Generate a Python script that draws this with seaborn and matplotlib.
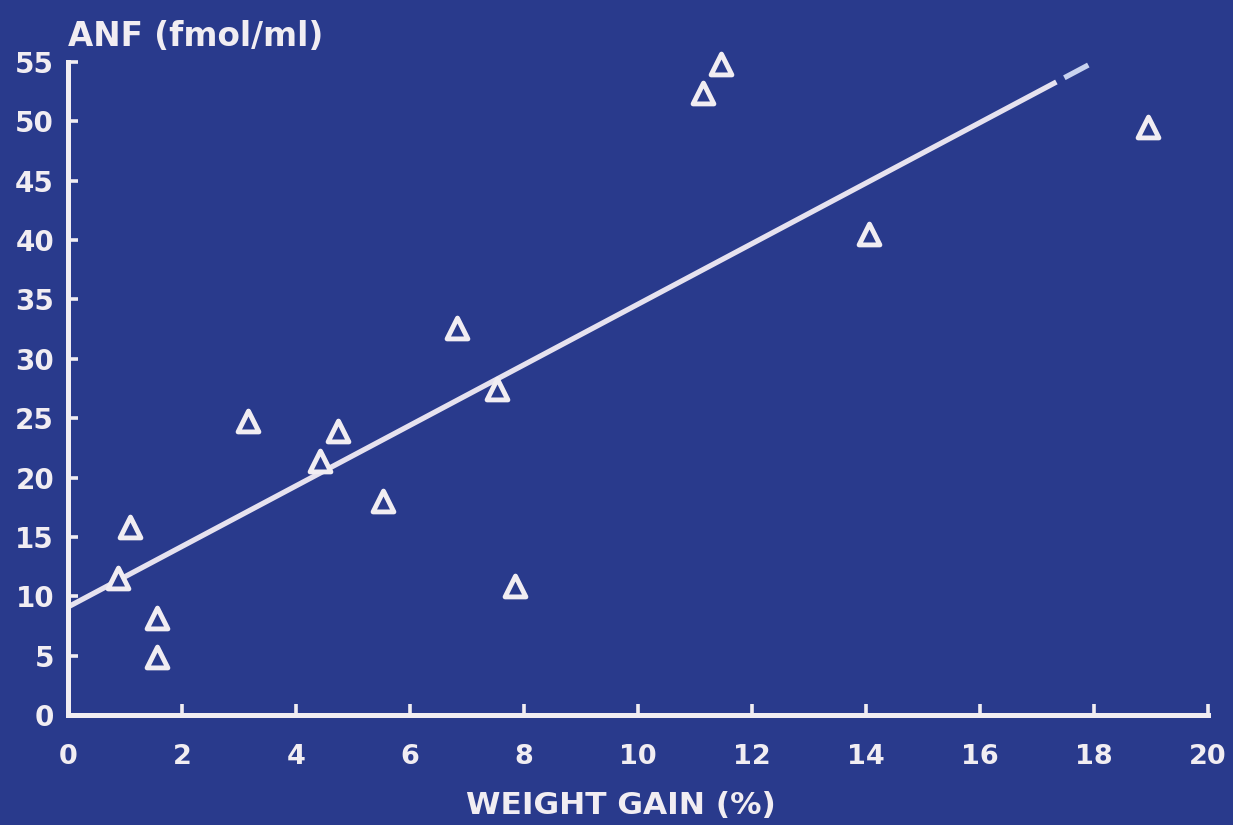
"""Recreate the ANF vs weight gain slide."""

import matplotlib

matplotlib.use("Agg")
import matplotlib.pyplot as plt
import pandas as pd
import seaborn as sns

# values
weight_gain = [0.88, 1.09, 1.56, 1.56, 3.16, 4.42, 4.74, 5.53, 6.82, 7.53, 7.84,
               11.14, 11.46, 14.05, 18.95]
anf = [11.5, 15.8, 8.2, 4.9, 24.8, 21.4, 23.9, 18.0, 32.6, 27.5, 10.9,
       52.4, 54.8, 40.5, 49.5]
x_ticks = [0, 2, 4, 6, 8, 10, 12, 14, 16, 18, 20]
y_ticks = [0, 5, 10, 15, 20, 25, 30, 35, 40, 45, 50, 55]

# regression line as drawn (solid part, then a short piece after a gap)
fit_intercept = 9.1
fit_slope = 2.55
fit_solid = [0.0, 17.34]
fit_tail = [17.48, 17.9]

BG = "#293a8c"
FG = "#f1edf2"

sns.set_theme(style="ticks")
plt.rcParams["font.family"] = ["DejaVu Sans"]
plt.rcParams["font.weight"] = "bold"

df = pd.DataFrame({"weight_gain": weight_gain, "anf": anf})

fig = plt.figure(figsize=(12.33, 8.25), dpi=100)
fig.patch.set_facecolor(BG)
ax = fig.add_axes([68 / 1233, 110 / 825, 1140 / 1233, 653 / 825])
ax.set_facecolor(BG)

ax.plot(fit_solid, [fit_intercept + fit_slope * v for v in fit_solid],
        color="#e6e2ef", lw=3.8, solid_capstyle="butt", zorder=2)
ax.plot(fit_tail, [fit_intercept + fit_slope * v for v in fit_tail],
        color="#c9d3f0", lw=3.8, solid_capstyle="butt", zorder=2)

sns.scatterplot(data=df, x="weight_gain", y="anf", ax=ax, marker="^",
                s=15 ** 2, facecolor=BG, edgecolor=FG, linewidth=3.5,
                clip_on=False, zorder=3, legend=False)

ax.set_xlim(0, 20)
ax.set_ylim(0, 55)
ax.set_xticks(x_ticks)
ax.set_yticks(y_ticks)
ax.set_xlabel("")
ax.set_ylabel("")

for side in ("top", "right"):
    ax.spines[side].set_visible(False)
for side in ("left", "bottom"):
    ax.spines[side].set_color(FG)
    ax.spines[side].set_linewidth(3.6)
    ax.spines[side].set_capstyle("projecting")

ax.tick_params(axis="x", direction="in", length=8, width=2.6, color=FG,
               labelcolor=FG, labelsize=19.5, pad=21)
ax.tick_params(axis="y", direction="in", length=7, width=2.6, color=FG,
               labelcolor=FG, labelsize=20, pad=10)
for lab in ax.get_xticklabels() + ax.get_yticklabels():
    lab.set_fontweight("bold")

fig.text(68 / 1233, 1 - 37 / 825, "ANF (fmol/ml)", color=FG, fontsize=23.5,
         fontweight="bold", ha="left", va="center")
fig.text(621 / 1233, 1 - 806 / 825, "WEIGHT GAIN (%)", color=FG, fontsize=22.5,
         fontweight="bold", ha="center", va="center")

fig.savefig("out.png", dpi=100, facecolor=BG)
